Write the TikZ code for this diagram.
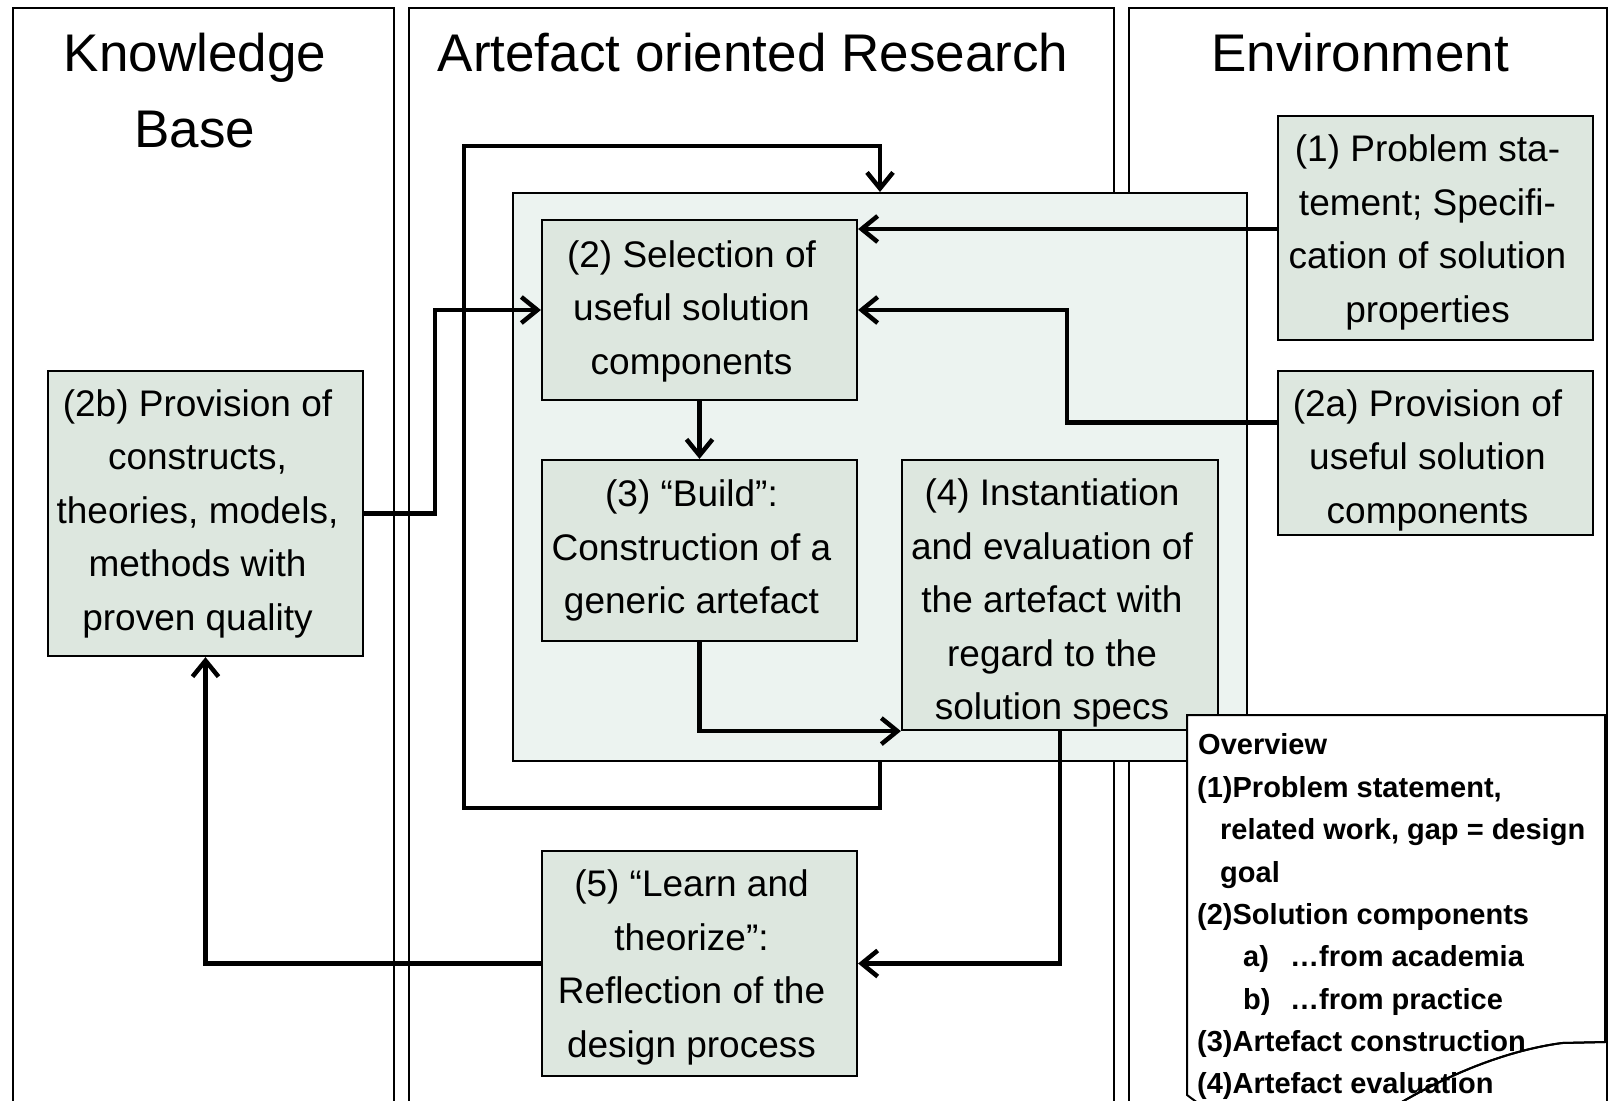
\documentclass[tikz,border=0pt]{standalone}
\usepackage{fontspec}
\setmainfont{Liberation Sans}
\usetikzlibrary{arrows.meta}

\definecolor{boxfill}{RGB}{221,231,223}
\definecolor{panelfill}{RGB}{236,243,240}

\begin{document}
\begin{tikzpicture}[x=1pt,y=-1pt,
  lane/.style={draw=black, line width=2pt, rectangle, inner sep=0pt, anchor=north west},
  lanetitle/.style={align=center, inner sep=0pt, font=\fontsize{53}{76}\selectfont},
  panel/.style={draw=black, line width=2pt, fill=panelfill, rectangle, inner sep=0pt},
  stepbox/.style={draw=black, line width=2.2pt, fill=boxfill, rectangle, inner sep=0pt},
  boxtext/.style={align=center, inner sep=0pt, font=\fontsize{37}{53.5}\selectfont},
  flow/.style={line width=4.5pt, -{Straight Barb[length=16pt,width=26pt]}},
  ovtext/.style={anchor=base west, inner sep=0pt, font=\bfseries\fontsize{29}{42}\selectfont},
  note/.style={draw=black, line width=2pt, fill=white}
]
\useasboundingbox (0,0) rectangle (1608,1100);
\clip (0,0) rectangle (1608,1100);

% the three lanes
\node[lane, minimum width=381, minimum height=1130] (col1) at (12,7) {};
\node[lane, minimum width=705, minimum height=1130] (col2) at (408,7) {};
\node[lane, minimum width=478, minimum height=1130] (col3) at (1128,7) {};

\node[lanetitle] (t1) at (195,91) {Knowledge\\Base};
\node[lanetitle] (t2) at (753,53) {Artefact oriented Research};
\node[lanetitle] (t3) at (1360,53) {Environment};

% design cycle panel
\node[panel, minimum width=734, minimum height=568] (panel) at (880,477) {};

% process steps
\node[stepbox, minimum width=315, minimum height=180] (b2) at (699.5,310) {};
\node[stepbox, minimum width=315, minimum height=181] (b3) at (699.5,550.5) {};
\node[stepbox, minimum width=316, minimum height=270] (b4) at (1060,595) {};
\node[stepbox, minimum width=315, minimum height=225] (b5) at (699.5,963.5) {};
\node[stepbox, minimum width=315, minimum height=285] (b2b) at (205.5,513.5) {};
\node[stepbox, minimum width=315, minimum height=224] (b1) at (1435.5,228) {};
\node[stepbox, minimum width=315, minimum height=164] (b2a) at (1435.5,453) {};

\node[boxtext] (b2t) at ([xshift=-8pt,yshift=-1pt]b2.center) {(2) Selection of\\useful solution\\components};
\node[boxtext] (b3t) at ([xshift=-8pt]b3.center) {(3) “Build”:\\Construction of a\\generic artefact};
\node[boxtext] (b4t) at ([xshift=-8pt,yshift=-8pt]b4.center) {(4) Instantiation\\and evaluation of\\the artefact with\\regard to the\\solution specs};
\node[boxtext] (b5t) at ([xshift=-8pt,yshift=-4pt]b5.center) {(5) “Learn and\\theorize”:\\Reflection of the\\design process};
\node[boxtext] (b2bt) at ([xshift=-8pt]b2b.center) {(2b) Provision of\\constructs,\\theories, models,\\methods with\\proven quality};
\node[boxtext] (b1t) at ([xshift=-8pt,yshift=-4.5pt]b1.center) {(1) Problem sta-\\tement; Specifi-\\cation of solution\\properties};
\node[boxtext] (b2at) at ([xshift=-8pt,yshift=-7pt]b2a.center) {(2a) Provision of\\useful solution\\components};

% routing points
\coordinate (loopbl) at (464,808);
\coordinate (looptl) at (464,146);
\coordinate (kbx) at (435,0);
\coordinate (envx) at (1067,0);

% connectors
\draw[flow] (panel.south) |- (loopbl) |- (looptl) -| (panel.north);
\draw[flow] (b2b.east) -- (b2b.east -| kbx) |- (b2.west);
\draw[flow] ([yshift=-1pt]b1.west) -- ([yshift=-1pt]b1.west -| b2.east);
\draw[flow] ([yshift=30.5pt]b2a.west) -- ([yshift=30.5pt]b2a.west -| envx) |- (b2.east);
\draw[flow] (b2.south) -- (b3.north);
\draw[flow] (b3.south) |- (b4.south west);
\draw[flow] (b4.south) |- (b5.east);
\draw[flow] (b5.west) -| (b2b.south);

% overview note with torn lower edge
\draw[note] (1187,715) -- (1605,715) -- (1605,1042) -- (1562,1043)
  .. controls (1510,1050) and (1450,1072) .. (1385,1112)
  -- (1210,1112) -- (1187,1095) -- cycle;
\node[ovtext] (ov0) at (1198,754) {Overview};
\node[ovtext] (ov1) at (1197,797) {(1)Problem statement,};
\node[ovtext] (ov2) at (1220,839) {related work, gap = design};
\node[ovtext] (ov3) at (1220,882) {goal};
\node[ovtext] (ov4) at (1197,924) {(2)Solution components};
\node[ovtext] (ov5) at (1243,966) {\makebox[47pt][l]{a)}…from academia};
\node[ovtext] (ov6) at (1243,1009) {\makebox[47pt][l]{b)}…from practice};
\node[ovtext] (ov7) at (1197,1051) {(3)Artefact construction};
\node[ovtext] (ov8) at (1197,1093) {(4)Artefact evaluation};
% the torn edge runs across the last lines
\draw[line width=2pt] (1605,1042) -- (1562,1043)
  .. controls (1510,1050) and (1450,1072) .. (1385,1112);
\end{tikzpicture}
\end{document}
